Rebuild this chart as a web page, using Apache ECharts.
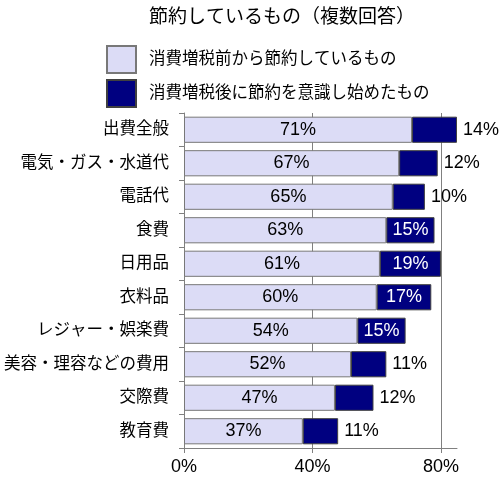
<!DOCTYPE html>
<html>
<head>
<meta charset="utf-8">
<script src="https://cdn.jsdelivr.net/npm/echarts@6/dist/echarts.min.js"></script>
<style>
  html, body { margin: 0; padding: 0; background: #fff; }
  #chart { width: 500px; height: 479px; }
</style>
</head>
<body>
<div id="chart"></div>
<script>
var categories = ['出費全般', '電気・ガス・水道代', '電話代', '食費', '日用品', '衣料品',
    'レジャー・娯楽費', '美容・理容などの費用', '交際費', '教育費'];
var beforeTax = [71, 67, 65, 63, 61, 60, 54, 52, 47, 37];
var afterTax = [14, 12, 10, 15, 19, 17, 15, 11, 12, 11];
var seriesNames = ['消費増税前から節約しているもの', '消費増税後に節約を意識し始めたもの'];
var xTicks = [0, 40, 80];

var font = '"Liberation Sans", "Noto Sans CJK JP", sans-serif';

// 後から節約: 大きい値はバーの中に白文字、それ以外は外側
var afterData = afterTax.map(function (v) {
    var inside = v >= 15;
    return {
        value: v,
        label: inside
            ? { position: 'inside', color: '#fff' }
            : { position: 'right', color: '#000', distance: 6 }
    };
});

var option = {
    animation: false,
    textStyle: { fontFamily: font },
    title: {
        text: '節約しているもの（複数回答）',
        left: 277,
        textAlign: 'center',
        top: 3,
        textStyle: { fontSize: 19, fontWeight: 'normal', color: '#000', fontFamily: font }
    },
    legend: {
        orient: 'vertical',
        left: 106,
        top: 45,
        padding: 0,
        itemWidth: 29,
        itemHeight: 27,
        itemGap: 5,
        icon: 'rect',
        data: seriesNames,
        textStyle: { fontSize: 16.5, color: '#000', padding: [0, 0, 0, 8] }
    },
    grid: { left: 184, right: 43, top: 113, bottom: 31, outerBoundsMode: 'none' },
    xAxis: {
        type: 'value',
        min: 0,
        max: 85,
        interval: 40,
        axisLine: { show: true, lineStyle: { color: '#808080' } },
        axisTick: { show: true, length: 5, lineStyle: { color: '#808080' } },
        axisLabel: {
            fontSize: 18,
            color: '#000',
            margin: 10,
            showMaxLabel: false,
            formatter: function (v) { return xTicks.indexOf(v) >= 0 ? v + '%' : ''; }
        },
        splitLine: {
            show: true,
            showMinLine: false,
            showMaxLine: false,
            lineStyle: { color: '#808080', width: 1 }
        }
    },
    yAxis: {
        type: 'category',
        inverse: true,
        data: categories,
        axisLine: { show: true, lineStyle: { color: '#808080' } },
        axisTick: { show: true, length: 5, lineStyle: { color: '#808080' } },
        axisLabel: { fontSize: 16.5, color: '#000', margin: 15 }
    },
    series: [
        {
            name: seriesNames[0],
            type: 'bar',
            stack: 'total',
            barWidth: '78%',
            data: beforeTax,
            itemStyle: { color: '#dcdcf6', borderColor: '#787878', borderWidth: 1 },
            label: {
                show: true,
                position: 'inside',
                fontSize: 18,
                color: '#000',
                formatter: '{c}%'
            }
        },
        {
            name: seriesNames[1],
            type: 'bar',
            stack: 'total',
            data: afterData,
            itemStyle: { color: '#000080', borderColor: '#404040', borderWidth: 1 },
            label: {
                show: true,
                fontSize: 18,
                formatter: '{c}%'
            }
        }
    ]
};

var myChart = echarts.init(document.getElementById('chart'));
myChart.setOption(option);
</script>
</body>
</html>
